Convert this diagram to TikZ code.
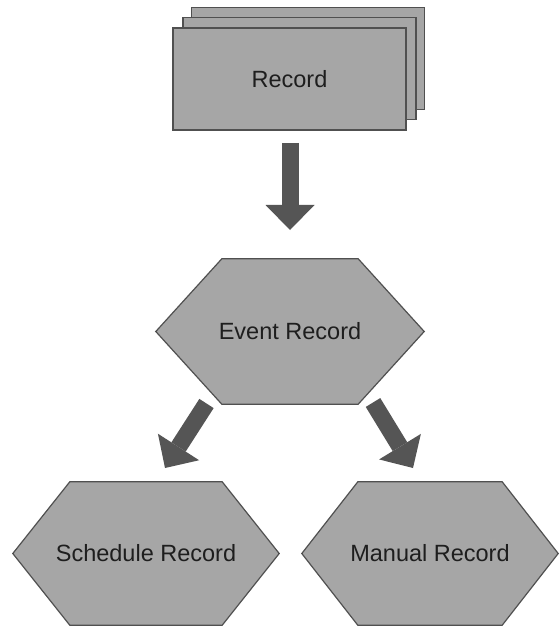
\documentclass[tikz,border=0pt]{standalone}
\usepackage{fontspec}
\setmainfont{Liberation Sans}
\usetikzlibrary{calc,arrows.meta,backgrounds}
\definecolor{boxfill}{HTML}{A6A6A6}
\definecolor{boxline}{HTML}{505050}
\definecolor{arrowc}{HTML}{555555}
\definecolor{txt}{HTML}{1E1E1E}
\begin{document}
\begin{tikzpicture}[x=1pt,y=-1pt,
  card/.style={draw=boxline, fill=boxfill, line width=1.3pt, rectangle,
    minimum width=233pt, minimum height=102pt, inner sep=0pt},
  lbl/.style={text=txt, font=\fontsize{23.5}{28}\selectfont, inner sep=0pt},
  hexline/.style={draw=boxline, fill=boxfill, line width=1.2pt, line join=miter},
  fat/.style={draw=arrowc, line width=17pt,
    -{Triangle[width=49pt,length=25pt,line width=0pt,fill=arrowc]}}]
\useasboundingbox (0,0) rectangle (559,628);

% stacked records
\node[card] (back) at (308,58.5) {};
\node[card] (mid) at (299.5,68.5) {};
\node[card, lbl, inner sep=0pt] (rec) at (289.5,79) {Record};

% hexagon nodes
\node[lbl, minimum width=268pt, minimum height=145pt] (ev) at (290,331.5) {Event Record};
\node[lbl, minimum width=266pt, minimum height=143pt] (sch) at (146,553.5) {Schedule Record};
\node[lbl, minimum width=256pt, minimum height=143pt] (man) at (430,553.5) {Manual Record};

\begin{pgfonlayer}{background}
  \fill[white] (0,0) rectangle (559,628);
  \draw[hexline] (ev.west) -- ([xshift=66pt]ev.north west) -- ([xshift=-66pt]ev.north east)
    -- (ev.east) -- ([xshift=-66pt]ev.south east) -- ([xshift=66pt]ev.south west) -- cycle;
  \draw[hexline] (sch.west) -- ([xshift=57pt]sch.north west) -- ([xshift=-57pt]sch.north east)
    -- (sch.east) -- ([xshift=-57pt]sch.south east) -- ([xshift=57pt]sch.south west) -- cycle;
  \draw[hexline] (man.west) -- ([xshift=56pt]man.north west) -- ([xshift=-56pt]man.north east)
    -- (man.east) -- ([xshift=-56pt]man.south east) -- ([xshift=56pt]man.south west) -- cycle;
\end{pgfonlayer}

% connectors
\coordinate (a0s) at (290,143);
\coordinate (a0e) at (290,230);
\coordinate (a1s) at (206.5,403.5);
\coordinate (a1e) at (165,468);
\coordinate (a2s) at (373,402.5);
\coordinate (a2e) at (413,468);
\draw[fat] (a0s) -- (a0e);
\draw[fat] (a1s) -- (a1e);
\draw[fat] (a2s) -- (a2e);
\end{tikzpicture}
\end{document}
